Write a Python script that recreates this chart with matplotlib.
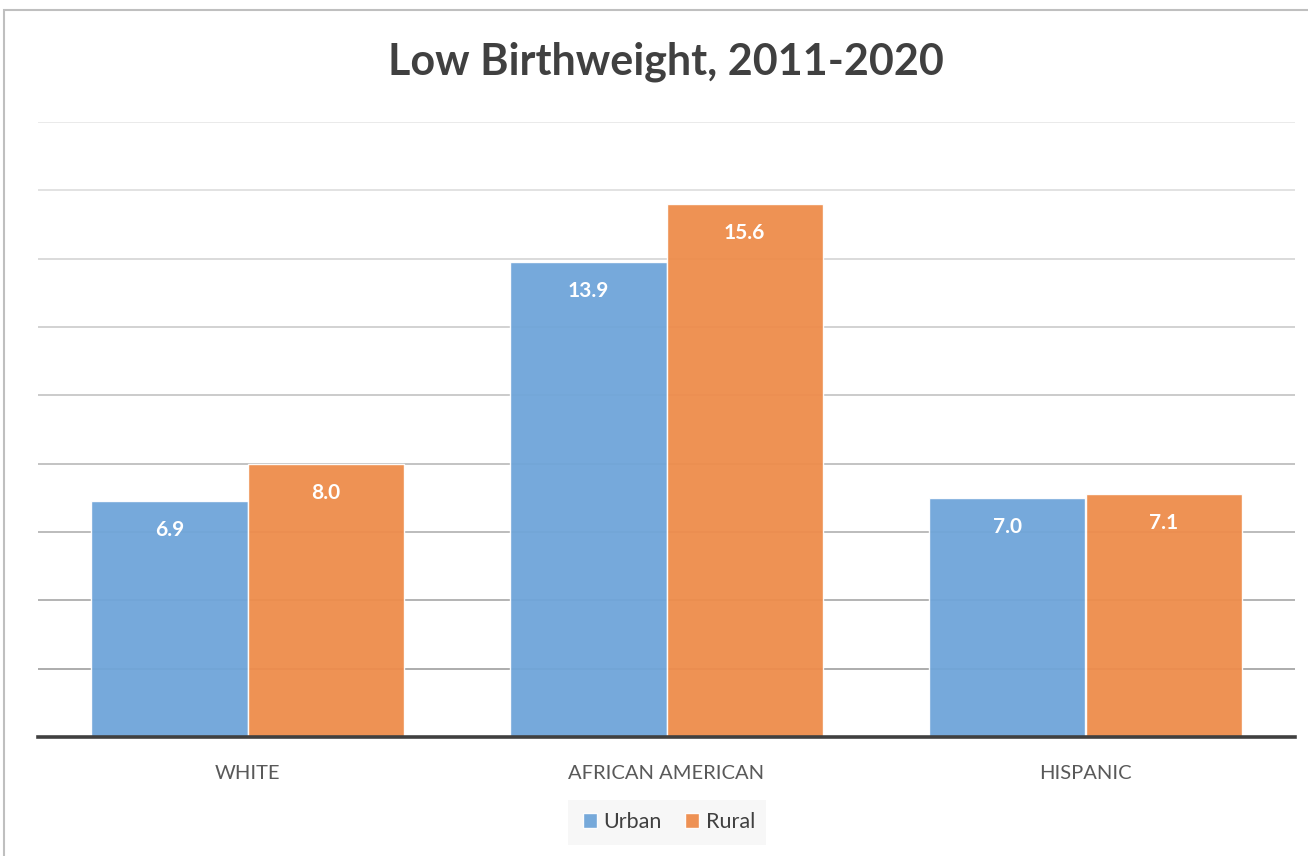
import numpy as np
import matplotlib.pyplot as plt
from matplotlib.patches import Rectangle

categories = ["WHITE", "AFRICAN AMERICAN", "HISPANIC"]
urban = [6.9, 13.9, 7.0]
rural = [8.0, 15.6, 7.1]
series_names = ["Urban", "Rural"]

blue = '#6fa5d9'
orange = '#ee8c4b'
text_col = '#404040'

plt.rcParams['font.family'] = ['Lato', 'DejaVu Sans']

fig = plt.figure(figsize=(13.08, 8.56), dpi=100)
W, H = 1308, 856
ax = fig.add_axes([38/W, 1 - 737/H, (1295-38)/W, (737-122)/H])

x = np.arange(len(categories))
w = 0.373

# gridlines, lighter towards the top
grid_vals = np.arange(2, 19, 2)
for g in grid_vals:
    shade = 0.62 + 0.28 * (g - 2) / 16
    ax.axhline(g, color=(shade, shade, shade), lw=1.2, zorder=0)

b1 = ax.bar(x - w/2, urban, w, color=blue, alpha=0.95, edgecolor='white', lw=1, zorder=2)
b2 = ax.bar(x + w/2, rural, w, color=orange, alpha=0.95, edgecolor='white', lw=1, zorder=2)

for bars, vals in [(b1, urban), (b2, rural)]:
    for r, v in zip(bars, vals):
        ax.text(r.get_x() + r.get_width()/2, v - 0.85, f"{v:.1f}", ha='center', va='center',
                color='white', fontsize=15, fontweight='bold', zorder=3)

ax.axhline(0, color='#404040', lw=2.6, zorder=4, clip_on=False)
ax.set_xlim(-0.5, 2.5)
ax.set_ylim(0, 18)
ax.set_yticks([])
ax.set_xticks(x)
ax.set_xticklabels(categories, fontsize=14.5, color='#595959')
ax.tick_params(axis='x', length=0, pad=20)
for s in ax.spines.values():
    s.set_visible(False)

fig.text(666/W, 1 - 62/H, "Low Birthweight, 2011-2020", ha='center', va='center',
         fontsize=31, fontweight='bold', color=text_col)

# legend box
fig.patches.append(Rectangle((568/W, 1 - 845/H), 198/W, 45/H, transform=fig.transFigure,
                             facecolor='#f7f7f7', edgecolor='none', zorder=0))
leg = fig.legend([b1, b2], series_names, loc='center', bbox_to_anchor=(669/W, 1 - 822/H),
                 ncol=2, frameon=False, fontsize=15.5, handlelength=0.65, handleheight=0.65,
                 handletextpad=0.3, columnspacing=1.1)
for t in leg.get_texts():
    t.set_color(text_col)

# outer chart border
fig.patches.append(Rectangle((4/W, -0.01), 1.2, 1 - 10/H + 0.01, transform=fig.transFigure,
                             facecolor='none', edgecolor='#bfbfbf', lw=1.5))

fig.savefig('out.png', dpi=100)
